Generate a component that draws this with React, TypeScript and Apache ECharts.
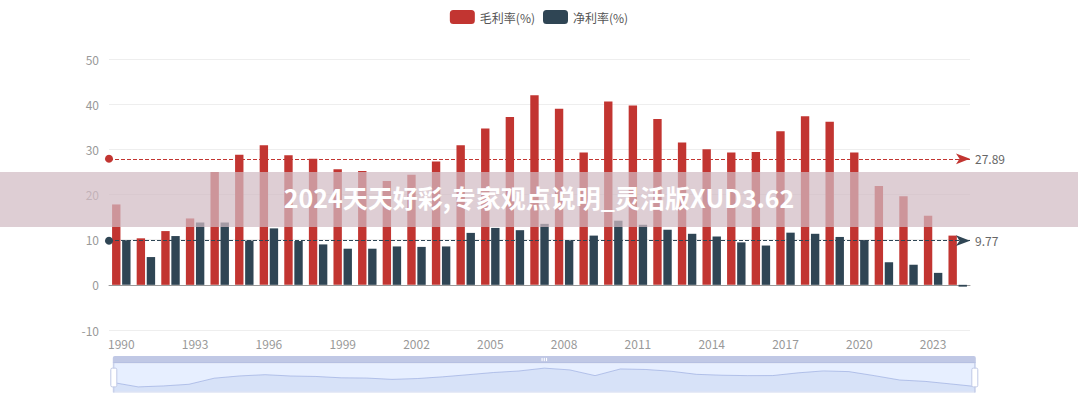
import React, { useEffect, useRef } from "react";
import * as echarts from "echarts";

const years = [
  "1990", "1991", "1992", "1993", "1994", "1995", "1996", "1997", "1998", "1999",
  "2000", "2001", "2002", "2003", "2004", "2005", "2006", "2007", "2008", "2009",
  "2010", "2011", "2012", "2013", "2014", "2015", "2016", "2017", "2018", "2019",
  "2020", "2021", "2022", "2023", "2024",
];

const grossMargin = [
  17.8, 10.3, 11.9, 14.7, 25.0, 28.8, 30.9, 28.7, 27.9, 25.6,
  25.2, 23.0, 24.4, 27.3, 30.9, 34.6, 37.15, 42.0, 39.0, 29.3,
  40.6, 39.7, 36.7, 31.5, 30.0, 29.3, 29.4, 34.0, 37.3, 36.1,
  29.3, 21.9, 19.6, 15.3, 10.9,
];

const netMargin = [
  9.85, 6.15, 10.8, 13.8, 13.8, 9.8, 12.5, 9.7, 8.95, 8.0,
  8.0, 8.5, 8.4, 8.5, 11.5, 12.6, 12.1, 13.5, 9.85, 10.9,
  14.2, 13.3, 12.2, 11.3, 10.7, 9.4, 8.7, 11.55, 11.3, 10.6,
  9.9, 5.0, 4.45, 2.65, -0.4,
];

const seriesNames = ["毛利率(%)", "净利率(%)"];
const seriesColors = ["#c23531", "#2f4554"];
const watermark = "2024天天好彩,专家观点说明_灵活版XUD3.62";

export default function App() {
  const ref = useRef<HTMLDivElement>(null);

  useEffect(() => {
    document.body.style.margin = "0";
    if (!ref.current) return;
    const chart = echarts.init(ref.current, undefined, { renderer: "svg" });
    const markLine = (color: string) => ({
      data: [{ type: "average", name: "平均值" }],
      precision: 2,
      label: { color: "#666", fontSize: 12 },
      lineStyle: { type: "dashed", width: 1, color },
      itemStyle: { color },
      symbolSize: [8, 14],
    });
    chart.setOption({
      animation: false,
      color: seriesColors,
      textStyle: { fontFamily: "'Noto Sans CJK SC', 'Noto Sans', sans-serif" },
      legend: {
        top: 5,
        left: "center",
        itemWidth: 25,
        itemHeight: 14,
        icon: "roundRect",
        textStyle: { color: "#555", fontSize: 12 },
        data: seriesNames,
      },
      grid: { left: 109, right: 108, top: 59, bottom: 70 },
      xAxis: {
        type: "category",
        data: years,
        axisLine: { onZero: true, lineStyle: { color: "#999" } },
        axisTick: { alignWithLabel: true, interval: 2, lineStyle: { color: "#999" } },
        axisLabel: { interval: 2, margin: 7, color: "#999", fontSize: 12 },
      },
      yAxis: {
        type: "value",
        min: -10,
        max: 50,
        interval: 10,
        axisLine: { show: false },
        axisTick: { show: false },
        axisLabel: { color: "#999", fontSize: 12, margin: 10 },
        splitLine: { lineStyle: { color: "#eee" } },
      },
      dataZoom: [
        {
          type: "slider",
          xAxisIndex: 0,
          start: 0,
          end: 100,
          left: 110,
          right: 105,
          bottom: 14,
          height: 30,
          showDetail: false,
        },
      ],
      series: [
        {
          name: seriesNames[0],
          type: "bar",
          data: grossMargin,
          barCategoryGap: "25%",
          barGap: "20%",
          markLine: markLine(seriesColors[0]),
        },
        {
          name: seriesNames[1],
          type: "bar",
          data: netMargin,
          barCategoryGap: "25%",
          barGap: "20%",
          markLine: markLine(seriesColors[1]),
        },
      ],
      graphic: [
        {
          type: "rect",
          left: 0,
          top: 172,
          z: 100,
          shape: { width: 1078, height: 55 },
          style: { fill: "rgba(209,187,195,0.72)" },
        },
        {
          type: "text",
          left: "center",
          top: 184,
          z: 101,
          style: {
            text: watermark,
            fill: "#fff",
            fontSize: 25,
            fontWeight: "bold",
            fontFamily: "'Noto Sans CJK SC', sans-serif",
          },
        },
      ],
    });
    return () => chart.dispose();
  }, []);

  return <div ref={ref} style={{ width: 1078, height: 400 }} />;
}
